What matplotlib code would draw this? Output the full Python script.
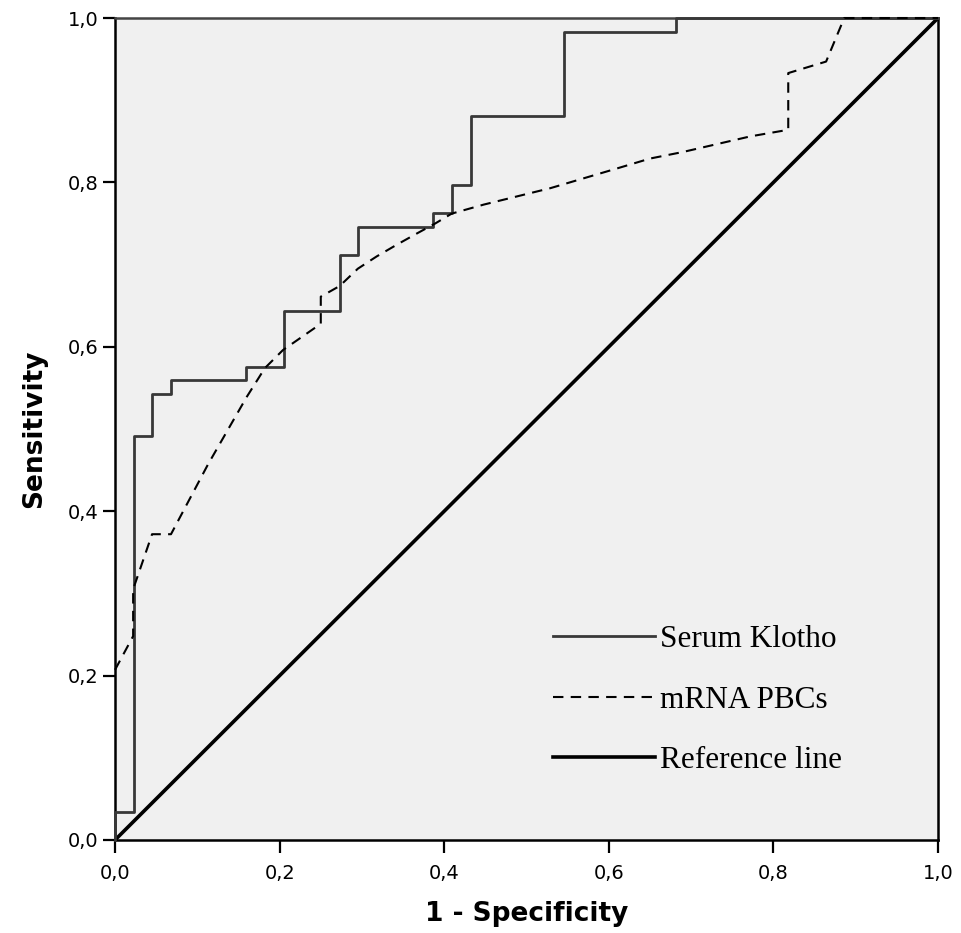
import matplotlib
matplotlib.use("Agg")
import matplotlib.pyplot as plt
from matplotlib.lines import Line2D

# ── Data (ROC vertices) ─────────────────────────────────────────────────────
klotho_fpr = [0.000, 0.000, 0.023, 0.023, 0.045, 0.045, 0.068, 0.068, 0.159, 0.159,
              0.205, 0.205, 0.273, 0.273, 0.295, 0.295, 0.386, 0.386, 0.409, 0.409,
              0.432, 0.432, 0.545, 0.545, 0.682, 0.682, 1.000]
klotho_tpr = [0.000, 0.034, 0.034, 0.492, 0.492, 0.542, 0.542, 0.559, 0.559, 0.576,
              0.576, 0.644, 0.644, 0.712, 0.712, 0.746, 0.746, 0.763, 0.763, 0.797,
              0.797, 0.881, 0.881, 0.983, 0.983, 1.000, 1.000]

mrna_fpr = [0.000, 0.022, 0.022, 0.045, 0.068, 0.113, 0.160, 0.182, 0.204, 0.250,
            0.250, 0.273, 0.295, 0.318, 0.342, 0.367, 0.389, 0.409, 0.448, 0.529,
            0.610, 0.650, 0.690, 0.772, 0.818, 0.818, 0.864, 0.886, 1.000]
mrna_tpr = [0.207, 0.248, 0.305, 0.372, 0.372, 0.457, 0.539, 0.574, 0.596, 0.628,
            0.661, 0.674, 0.695, 0.710, 0.724, 0.738, 0.750, 0.762, 0.773, 0.793,
            0.817, 0.829, 0.837, 0.856, 0.864, 0.933, 0.947, 1.000, 1.000]

ref_x = [0.0, 1.0]
ref_y = [0.0, 1.0]

ticks = [0.0, 0.2, 0.4, 0.6, 0.8, 1.0]
tick_labels = ["0,0", "0,2", "0,4", "0,6", "0,8", "1,0"]

# ── Plot ─────────────────────────────────────────────────────────────────────
fig = plt.figure(figsize=(9.61, 9.33), dpi=100)
fig.patch.set_facecolor("white")
ax = fig.add_axes([0.1197, 0.0997, 0.8564, 0.881])
ax.set_facecolor("#F0F0F0")

ax.plot(ref_x, ref_y, color="black", lw=2.6, solid_capstyle="butt", zorder=3)
ax.plot(klotho_fpr, klotho_tpr, color="#383838", lw=2.0, zorder=4, clip_on=False)
ax.plot(mrna_fpr, mrna_tpr, color="black", lw=1.5, dashes=(5, 3.5), zorder=4,
        clip_on=False)

ax.set_xlim(0, 1)
ax.set_ylim(0, 1)
ax.set_xticks(ticks)
ax.set_xticklabels(tick_labels)
ax.set_yticks(ticks)
ax.set_yticklabels(tick_labels)
ax.tick_params(direction="out", length=9, width=1.6, labelsize=14, colors="black")
ax.tick_params(axis="x", pad=8)
ax.tick_params(axis="y", pad=3)
for s in ax.spines.values():
    s.set_linewidth(1.8)
    s.set_color("black")
ax.spines["top"].set_color("#444444")

ax.set_xlabel("1 - Specificity", fontsize=19, fontweight="bold", labelpad=13)
ax.set_ylabel("Sensitivity", fontsize=19, fontweight="bold", labelpad=15)

# ── Legend ───────────────────────────────────────────────────────────────────
handles = [
    Line2D([], [], color="#383838", lw=2.0),
    Line2D([], [], color="black", lw=1.5, dashes=(5, 3.5)),
    Line2D([], [], color="black", lw=2.6),
]
names = ["Serum Klotho", "mRNA PBCs", "Reference line"]
ax.legend(handles, names, loc="center left", bbox_to_anchor=(0.532, 0.170),
          frameon=False, borderpad=0, borderaxespad=0, handlelength=3.26,
          handletextpad=0.16, labelspacing=1.01,
          prop={"family": "Liberation Serif", "size": 22.5})

fig.savefig("out.png", dpi=100)
